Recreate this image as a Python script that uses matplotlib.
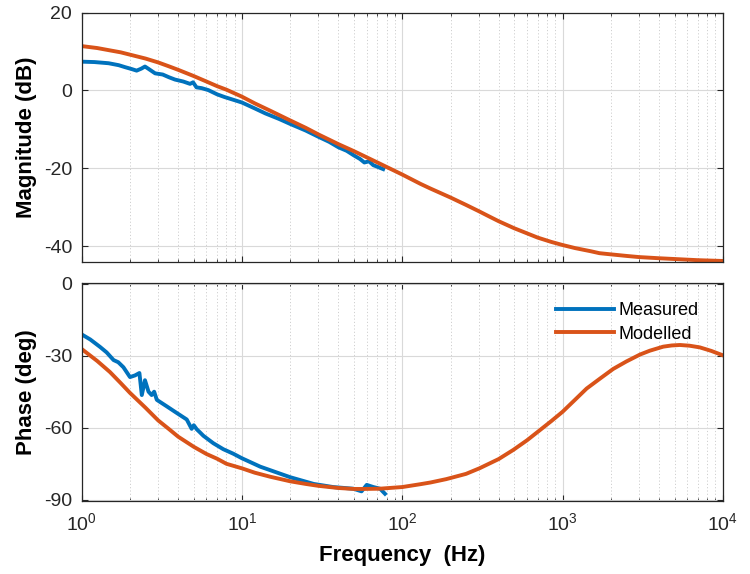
import matplotlib
matplotlib.use("Agg")
import matplotlib.pyplot as plt
from matplotlib.ticker import LogLocator, NullFormatter, FixedLocator

plt.rcParams['font.family'] = ['Liberation Sans', 'DejaVu Sans']
plt.rcParams['mathtext.default'] = 'regular'
plt.rcParams['axes.unicode_minus'] = False

# ---- data ----
mod_mag_f = [1, 1.25, 1.5, 1.75, 2, 2.5, 3, 3.5, 4, 5, 6, 7, 8, 10, 12, 15, 20, 25,
             30, 40, 50, 70, 100, 130, 150, 200, 250, 300, 350, 400, 500, 600,
             700, 850, 1000, 1200, 1500, 1700, 2000, 2500, 3000, 4000, 5000,
             7000, 10000]
mod_mag_db = [11.4, 10.9, 10.3, 9.8, 9.2, 8.2, 7.2, 6.2, 5.3, 3.7, 2.3, 1.1, 0.2,
              -1.6, -3.3, -5.2, -7.7, -9.6, -11.3, -13.8, -15.6, -18.5, -21.6,
              -24.0, -25.2, -27.5, -29.4, -31.0, -32.4, -33.6, -35.4, -36.7, -37.8,
              -38.9, -39.7, -40.5, -41.3, -41.8, -42.1, -42.5, -42.8, -43.1, -43.3,
              -43.6, -43.8]

meas_mag_f = [1.0, 1.2, 1.47, 1.7, 1.86, 2.05, 2.2, 2.35, 2.48, 2.6, 2.87, 3.2, 3.5,
              3.82, 4.3, 4.74, 4.95, 5.2, 5.6, 6.16, 7.0, 7.8, 9.0, 10, 12, 14, 17,
              20, 25, 30, 35, 40, 45, 50, 54.5, 58, 62, 66, 70, 76]
meas_mag_db = [7.4, 7.3, 7.0, 6.5, 6.0, 5.5, 5.1, 5.6, 6.15, 5.6, 4.4, 4.1, 3.4,
               2.8, 2.3, 1.7, 2.1, 0.8, 0.6, 0.1, -1.0, -1.7, -2.5, -3.1, -4.6,
               -5.9, -7.3, -8.6, -10.3, -11.9, -13.2, -14.6, -15.5, -16.7, -17.6,
               -18.5, -18.2, -19.2, -19.6, -20.2]

mod_ph_f = [1, 1.25, 1.5, 1.75, 2, 2.5, 3, 3.5, 4, 5, 6, 7, 8, 10, 12, 15, 20, 25,
            30, 40, 50, 57, 72, 100, 130, 150, 188, 250, 305, 400, 493, 600, 724,
            850, 1000, 1200, 1413, 1700, 2071, 2500, 3042, 3500, 4250, 4800, 5400,
            6200, 7190, 8500, 10000]
mod_ph_deg = [-27.2, -32.2, -36.8, -41.4, -45.5, -51.7, -57.0, -60.6, -63.8, -68.0,
              -71.0, -73.0, -75.1, -77.0, -78.8, -80.5, -82.4, -83.5, -84.3, -85.2,
              -85.6, -85.6, -85.5, -84.8, -83.6, -82.9, -81.5, -79.3, -76.9, -73.1,
              -69.3, -65.3, -61.0, -57.3, -53.4, -48.3, -43.7, -39.7, -35.5, -32.4,
              -29.5, -27.9, -26.2, -25.7, -25.5, -25.8, -26.5, -28.0, -29.8]

meas_ph_f = [1.0, 1.13, 1.30, 1.43, 1.58, 1.69, 1.82, 2.0, 2.15, 2.29, 2.37, 2.48,
             2.61, 2.73, 2.83, 2.94, 3.39, 3.92, 4.52, 4.85, 5.0, 5.22, 5.47, 5.74,
             6.62, 7.64, 8.83, 10, 13, 20, 28, 37, 49.5, 55.7, 60, 66, 72.7, 78]
meas_ph_deg = [-21.1, -23.2, -26.3, -28.6, -31.8, -32.7, -34.8, -38.9, -38.2, -37.2,
               -46.4, -40.2, -45.0, -46.4, -45.0, -48.4, -51.1, -53.9, -56.6, -60.5,
               -59.0, -60.7, -62.0, -63.4, -66.5, -69.0, -70.9, -72.8, -76.3, -80.7,
               -83.5, -84.8, -85.5, -86.6, -83.9, -84.8, -85.5, -87.6]

mag_ticks = [-40, -20, 0, 20]
ph_ticks = [-90, -60, -30, 0]

BLUE = '#0072BD'
ORANGE = '#D95319'
LW = 2.8

fig = plt.figure(figsize=(7.5, 5.74), dpi=100)
ax1 = fig.add_axes([0.109, 0.544, 0.8547, 0.434])
ax2 = fig.add_axes([0.109, 0.1277, 0.8547, 0.3798])

ax1.plot(meas_mag_f, meas_mag_db, color=BLUE, lw=LW, label='Measured',
         solid_joinstyle='round')
ax1.plot(mod_mag_f, mod_mag_db, color=ORANGE, lw=LW, label='Modelled',
         solid_joinstyle='round')
ax2.plot(meas_ph_f, meas_ph_deg, color=BLUE, lw=LW, label='Measured',
         solid_joinstyle='round')
ax2.plot(mod_ph_f, mod_ph_deg, color=ORANGE, lw=LW, label='Modelled',
         solid_joinstyle='round')

for ax in (ax1, ax2):
    ax.set_xscale('log')
    ax.set_xlim(1, 1e4)
    ax.xaxis.set_major_locator(LogLocator(base=10, numticks=10))
    ax.xaxis.set_minor_locator(LogLocator(base=10, subs=range(2, 10), numticks=20))
    ax.xaxis.set_minor_formatter(NullFormatter())
    ax.grid(True, which='major', color='#d9d9d9', lw=0.8, ls='-')
    ax.grid(True, which='minor', axis='x', color='#cfcfcf', lw=0.7, ls=(0, (1.2, 2.2)))
    ax.set_axisbelow(True)
    ax.tick_params(direction='in', which='both', top=True, right=True,
                   labelsize=14, colors='#262626', length=4)
    ax.tick_params(axis='y', pad=7)
    ax.tick_params(which='minor', length=2.5)
    for s in ax.spines.values():
        s.set_color('#262626')
        s.set_linewidth(0.9)

ax1.set_ylim(-44, 20)
ax1.yaxis.set_major_locator(FixedLocator(mag_ticks))
ax1.tick_params(labelbottom=False)
ax1.set_ylabel('Magnitude (dB)', fontsize=16, fontweight='bold', labelpad=5)

ax2.set_ylim(-90.5, 0.5)
ax2.yaxis.set_major_locator(FixedLocator(ph_ticks))
ax2.set_ylabel('Phase (deg)', fontsize=16, fontweight='bold', labelpad=5)
ax2.set_xlabel('Frequency  (Hz)', fontsize=16, fontweight='bold', labelpad=8)
ax2.tick_params(axis='x', pad=8)

leg = ax2.legend(loc='upper right', bbox_to_anchor=(0.98, 0.96), frameon=False,
                 fontsize=13, handlelength=3.2, handletextpad=0.3,
                 labelspacing=0.35, borderaxespad=0.2)

fig.savefig('out.png', dpi=100)
